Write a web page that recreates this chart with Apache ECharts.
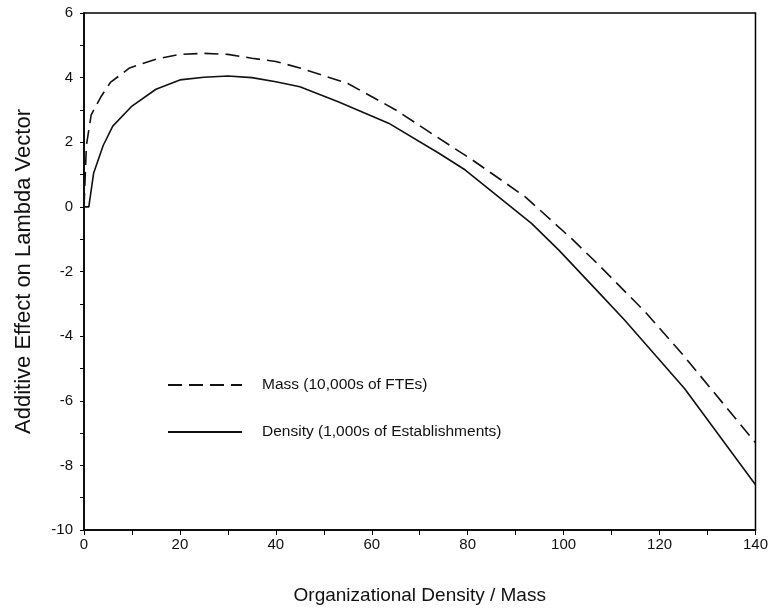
<!DOCTYPE html>
<html>
<head>
<meta charset="utf-8">
<script src="https://cdn.jsdelivr.net/npm/echarts@6/dist/echarts.min.js"></script>
<style>html,body{margin:0;padding:0;background:#fff;}#c{width:771px;height:611px;}</style>
</head>
<body>
<div id="c"></div>
<script>
const xLabelTicks = [0, 20, 40, 60, 80, 100, 120, 140];
const yLabelTicks = [-10, -8, -6, -4, -2, 0, 2, 4, 6];

const massName = 'Mass (10,000s of FTEs)';
const densityName = 'Density (1,000s of Establishments)';

const massX = [0, 0.5, 1.5, 3.5, 5.5, 9.5, 15, 20, 25, 30, 35, 40, 45, 55, 65, 73, 81, 92, 102, 107, 117, 125, 140];
const massY = [0, 1.9, 2.85, 3.4, 3.85, 4.3, 4.57, 4.72, 4.75, 4.72, 4.6, 4.5, 4.3, 3.82, 3.0, 2.22, 1.45, 0.31, -1.03, -1.75, -3.25, -4.6, -7.3];

const densityX = [0, 1, 2, 4, 6, 10, 15, 20, 25, 30, 35, 40, 45, 53, 63.5, 74, 79.5, 93.3, 99, 107.2, 112.7, 125.2, 140];
const densityY = [0, 0, 1.04, 1.9, 2.5, 3.12, 3.64, 3.93, 4.01, 4.05, 4.0, 3.87, 3.72, 3.25, 2.59, 1.66, 1.14, -0.51, -1.34, -2.63, -3.5, -5.62, -8.6];

const zip = (xs, ys) => xs.map((x, i) => [x, ys[i]]);

const chart = echarts.init(document.getElementById('c'), null, {renderer: 'canvas'});
const font = '"Liberation Sans", Arial, Helvetica, sans-serif';
chart.setOption({
  animation: false,
  backgroundColor: '#fff',
  grid: {left: 84, right: 13, top: 13, bottom: 81, show: true, borderColor: '#000', borderWidth: 1.5, backgroundColor: 'transparent'},
  legend: {
    show: true,
    orient: 'vertical',
    left: 162,
    top: 372,
    itemWidth: 74,
    itemHeight: 14,
    itemGap: 31,
    itemStyle: {opacity: 0},
    data: [massName, densityName],
    textStyle: {fontFamily: font, fontSize: 15.5, color: '#111', padding: [0, 0, 0, 15]}
  },
  xAxis: {
    type: 'value', min: 0, max: 140, interval: 10,
    name: 'Organizational Density / Mass', nameLocation: 'middle', nameGap: 56,
    nameTextStyle: {fontFamily: font, fontSize: 19, color: '#111'},
    axisLine: {onZero: false, lineStyle: {color: '#000', width: 1.5}},
    axisTick: {show: true, length: 5, lineStyle: {color: '#000', width: 1}},
    axisLabel: {fontFamily: font, fontSize: 15, color: '#111', margin: 7,
      formatter: v => xLabelTicks.includes(v) ? String(v) : ''},
    splitLine: {show: false}
  },
  yAxis: {
    type: 'value', min: -10, max: 6, interval: 1,
    name: 'Additive Effect on Lambda Vector', nameLocation: 'middle', nameGap: 49,
    nameTextStyle: {fontFamily: font, fontSize: 22, color: '#111'},
    axisLine: {show: true, onZero: false, lineStyle: {color: '#000', width: 1.5}},
    axisTick: {show: true, length: 4, lineStyle: {color: '#000', width: 1}},
    axisLabel: {fontFamily: font, fontSize: 15, color: '#111', margin: 11,
      formatter: v => yLabelTicks.includes(v) ? String(v) : ''},
    splitLine: {show: false}
  },
  series: [
    {name: massName, type: 'line', data: zip(massX, massY), symbol: 'none', smooth: false,
      lineStyle: {color: '#111', width: 1.6, type: [14, 7]}, itemStyle: {color: '#111'}},
    {name: densityName, type: 'line', data: zip(densityX, densityY), symbol: 'none', smooth: false,
      lineStyle: {color: '#111', width: 1.6, type: 'solid'}, itemStyle: {color: '#111'}}
  ]
});
</script>
</body>
</html>
